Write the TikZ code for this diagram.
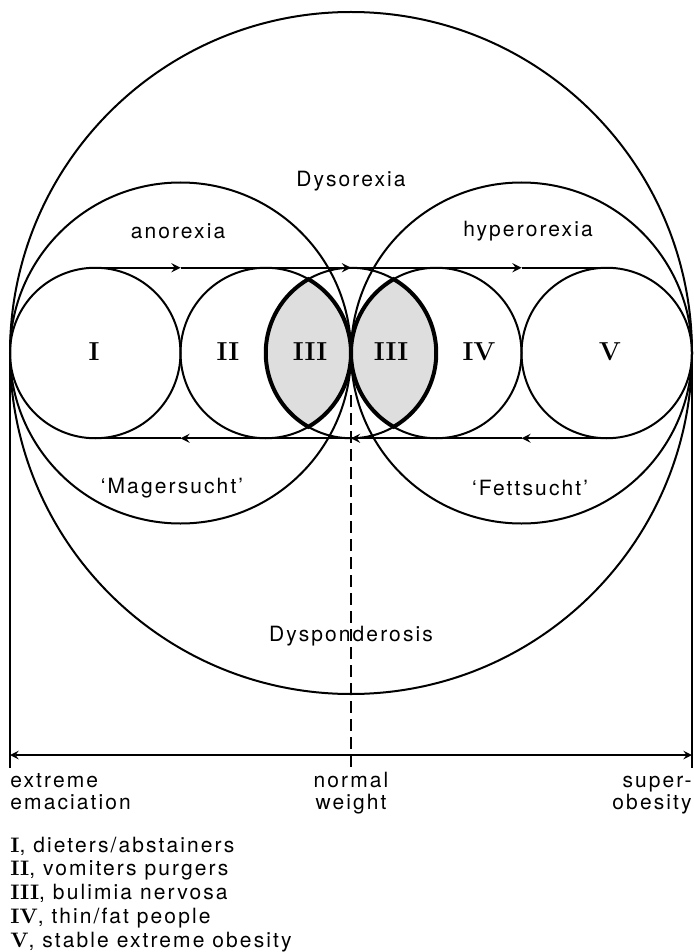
\documentclass[tikz,border=0pt]{standalone}
\usepackage{fontspec}
\setsansfont[LetterSpace=10]{TeX Gyre Heros}
\usetikzlibrary{arrows, positioning}
\newcommand{\romNum}[1]{{\rmfamily\bfseries #1}}
\tikzstyle{ring} = [line width=1pt, draw=black]
\tikzstyle{lensB} = [line width=2pt, draw=black, fill=black!13]
\tikzstyle{trackArrow} = [ring, ->, >=stealth]
\tikzstyle{scaleArrow} = [line width=0.9pt, <->, >=stealth, draw=black]
\tikzstyle{txtNode} = [text centered, inner sep=0pt, font=\sffamily\fontsize{10.5}{12}\selectfont]
\tikzstyle{legNode} = [txtNode, anchor=base west]
\tikzstyle{numNode} = [inner sep=0pt, font=\rmfamily\bfseries\fontsize{13}{13}\selectfont]

\begin{document}
\begin{tikzpicture}[x=0.5pt, y=-0.5pt]
        \useasboundingbox (0,0) rectangle (693,952);
        % centres
        \coordinate (cI) at (95.25,353);
        \coordinate (cII) at (265.75,353);
        \coordinate (cN) at (351,353);
        \coordinate (cIV) at (436.25,353);
        \coordinate (cV) at (606.75,353);
        \coordinate (cAn) at (180.5,353);
        \coordinate (cHy) at (521.5,353);

        % shaded lenses
        \draw [lensB] (cII) ++(-60:85.25) arc[start angle=-60, end angle=60, radius=85.25] arc[start angle=120, end angle=240, radius=85.25] -- cycle;
        \draw [lensB] (cN) ++(-60:85.25) arc[start angle=-60, end angle=60, radius=85.25] arc[start angle=120, end angle=240, radius=85.25] -- cycle;

        % circles
        \draw [ring] (cN) circle (341);
        \draw [ring] (cAn) circle (170.5);
        \draw [ring] (cHy) circle (170.5);
        \draw [ring] (cI) circle (85.25);
        \draw [ring] (cII) circle (85.25);
        \draw [ring] (cN) circle (85.25);
        \draw [ring] (cIV) circle (85.25);
        \draw [ring] (cV) circle (85.25);

        % track
        \coordinate (t1) at (95.25,267.75);
        \coordinate (t2) at (180.5,267.75);
        \coordinate (t3) at (351,267.75);
        \coordinate (t4) at (521.5,267.75);
        \coordinate (t5) at (606.75,267.75);
        \coordinate (b1) at (95.25,438.25);
        \coordinate (b2) at (180.5,438.25);
        \coordinate (b3) at (351,438.25);
        \coordinate (b4) at (521.5,438.25);
        \coordinate (b5) at (606.75,438.25);
        \draw [trackArrow] (t1) -- (t2);
        \draw [trackArrow] (t2) -- (t3);
        \draw [trackArrow] (t3) -- (t4);
        \draw [ring] (t4) -- (t5);
        \draw [trackArrow] (b5) -- (b4);
        \draw [trackArrow] (b4) -- (b3);
        \draw [trackArrow] (b3) -- (b2);
        \draw [ring] (b2) -- (b1);

        % weight scale
        \coordinate (eL) at (10,353);
        \coordinate (eLb) at (10,768);
        \coordinate (eR) at (692,353);
        \coordinate (eRb) at (692,768);
        \coordinate (sL) at (10,755);
        \coordinate (sR) at (692,755);
        \coordinate (nTop) at (351,395);
        \coordinate (nBot) at (351,768);
        \draw [ring] (eL) -- (eLb);
        \draw [ring] (eR) -- (eRb);
        \draw [scaleArrow] (sL) -- (sR);
        \draw [ring, dashed, dash pattern=on 6pt off 3pt] (nTop) -- (nBot);

        % labels
        \node (dysorexia) [txtNode] at (351,181) {Dysorexia};
        \node (anorexia) [txtNode] at (178,231) {anorexia};
        \node (hyperorexia) [txtNode] at (528,231) {hyperorexia};
        \node (mager) [txtNode] at (172,488) {`Magersucht'};
        \node (fett) [txtNode] at (530,488) {`Fettsucht'};
        \node (dysponderosis) [txtNode] at (351,636) {Dysponderosis};
        \node (numI) [numNode] at (94,352) {I};
        \node (numII) [numNode] at (228,352) {II};
        \node (numIIIa) [numNode] at (310,352) {III};
        \node (numIIIb) [numNode] at (391,352) {III};
        \node (numIV) [numNode] at (479,352) {IV};
        \node (numV) [numNode] at (610,352) {V};

        \node (extreme) [legNode] at (10,787) {extreme};
        \node (emaciation) [legNode] at (10,809) {emaciation};
        \node (normal) [txtNode, anchor=base] at (351,787) {normal};
        \node (weight) [txtNode, anchor=base] at (351,809) {weight};
        \node (super) [txtNode, anchor=base east] at (692,787) {super-};
        \node (obesity) [txtNode, anchor=base east] at (692,809) {obesity};

        \node (legI) [legNode] at (10,852) {\romNum{I}, dieters/abstainers};
        \node (legII) [legNode] at (10,875.75) {\romNum{II}, vomiters purgers};
        \node (legIII) [legNode] at (10,899.5) {\romNum{III}, bulimia nervosa};
        \node (legIV) [legNode] at (10,923.25) {\romNum{IV}, thin/fat people};
        \node (legV) [legNode] at (10,947) {\romNum{V}, stable extreme obesity};
\end{tikzpicture}
\end{document}
